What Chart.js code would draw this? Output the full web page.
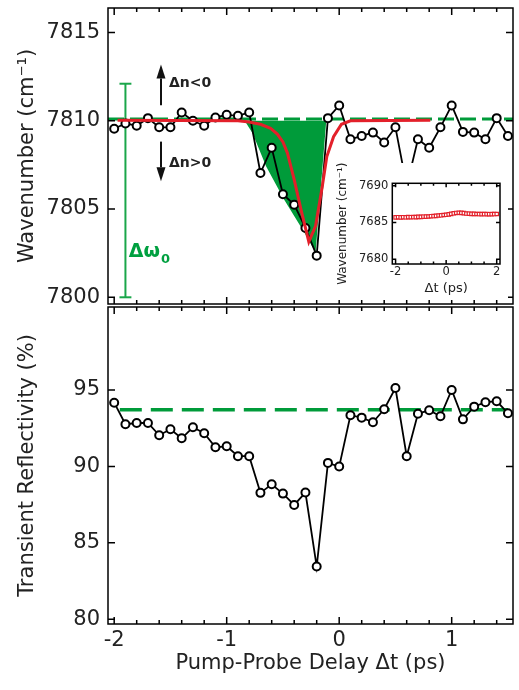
<!DOCTYPE html>
<html>
<head>
<meta charset="utf-8">
<script src="https://cdn.jsdelivr.net/npm/chart.js@4.4.1/dist/chart.umd.min.js"></script>
<style>
	body { margin: 0; background: #fff; }
	#marco { position: relative; width: 519px; height: 690px; }
	canvas { position: absolute; }
</style>
</head>
<body>
<div id="marco">
	<canvas id="canvas01" width="519" height="310" style="left:0;top:0"></canvas>
	<canvas id="canvas02" width="519" height="390" style="left:0;top:300px"></canvas>
	<canvas id="canvas03" width="173" height="140" style="left:335px;top:160px"></canvas>
</div>
<script>
// retardo pump-probe (ps)
var retardo = [-2.0, -1.9, -1.8, -1.7, -1.6, -1.5, -1.4, -1.3, -1.2, -1.1, -1.0, -0.9, -0.8, -0.7, -0.6, -0.5, -0.4, -0.3,
	-0.2, -0.1, 0.0, 0.1, 0.2, 0.3, 0.4, 0.5, 0.6, 0.7, 0.8, 0.9, 1.0, 1.1, 1.2, 1.3, 1.4, 1.5];
// numero de onda (cm-1)
var numOnda = [7809.55, 7809.85, 7809.72, 7810.15, 7809.63, 7809.63, 7810.47, 7810.00, 7809.72, 7810.19, 7810.34, 7810.28,
	7810.47, 7807.04, 7808.47, 7805.84, 7805.25, 7803.93, 7802.36, 7810.15, 7810.87, 7808.95, 7809.14, 7809.33,
	7808.77, 7809.63, 7806.30, 7808.95, 7808.47, 7809.63, 7810.87, 7809.37, 7809.33, 7808.95, 7810.15, 7809.14];
// reflectividad transitoria (%)
var reflect = [94.17, 92.76, 92.84, 92.84, 92.04, 92.43, 91.84, 92.56, 92.17, 91.25, 91.32, 90.67,
	90.67, 88.27, 88.83, 88.22, 87.48, 88.29, 83.45, 90.23, 89.99, 93.35, 93.19, 92.89,
	93.74, 95.13, 90.67, 93.45, 93.67, 93.28, 95.00, 93.08, 93.91, 94.20, 94.26, 93.48];

// curva de ajuste (roja)
var ajusteT = [-1.97, -0.90, -0.80, -0.70, -0.61, -0.55, -0.50, -0.46, -0.40, -0.34, -0.27, -0.21, -0.15, -0.11, -0.05, 0.02, 0.10, 0.81];
var ajusteW = [7810.03, 7810.00, 7809.93, 7809.80, 7809.57, 7809.25, 7808.80, 7808.17, 7806.67, 7804.98, 7803.15,
	7804.04, 7806.29, 7807.97, 7809.10, 7809.80, 7810.00, 7810.03];

// zona verde
var sombraT = [-0.84, -0.77, -0.65, -0.49, -0.31, -0.21, -0.115];
var sombraW = [7810.00, 7809.29, 7807.42, 7805.54, 7803.67, 7802.55, 7810.00];

// lineas base
var baseW = 7810.1;
var baseWT = [-2.055, 1.545];
var baseR = 93.7;
var baseRT = [-1.95, 1.5];

// barra delta omega
var barraT = -1.9;
var barraW = [7800.0, 7812.1];
var barraCapa = 0.053;

// inset
var insetT = [-2.0, -1.9, -1.8, -1.7, -1.6, -1.5, -1.4, -1.3, -1.2, -1.1, -1.0, -0.9, -0.8, -0.7, -0.6, -0.5, -0.4, -0.3, -0.2, -0.1,
	0.0, 0.1, 0.2, 0.3, 0.4, 0.5, 0.6, 0.7, 0.8, 0.9, 1.0, 1.1, 1.2, 1.3, 1.4, 1.5, 1.6, 1.7, 1.8, 1.9, 2.0];
var insetW = [7685.70, 7685.72, 7685.70, 7685.72, 7685.71, 7685.73, 7685.72, 7685.74, 7685.73, 7685.76, 7685.77,
	7685.79, 7685.80, 7685.82, 7685.86, 7685.88, 7685.90, 7685.95, 7685.98, 7686.02, 7686.05, 7686.10, 7686.18,
	7686.25, 7686.30, 7686.33, 7686.31, 7686.27, 7686.22, 7686.20, 7686.18, 7686.17, 7686.16, 7686.15, 7686.14,
	7686.15, 7686.14, 7686.13, 7686.14, 7686.15, 7686.16];

// ticks
var ticksX = [-2, -1, 0, 1];
var ticksXmenor = [-1.8, -1.6, -1.4, -1.2, -0.8, -0.6, -0.4, -0.2, 0.2, 0.4, 0.6, 0.8, 1.2, 1.4];
var ticksW = [7800, 7805, 7810, 7815];
var ticksR = [80, 85, 90, 95];
var ticksInsX = [-2, 0, 2];
var ticksInsXmenor = [-1.5, -1, -0.5, 0.5, 1, 1.5];
var ticksInsW = [7680, 7685, 7690];

var VERDE = '#009b3a';
var ROJO = '#e3202a';
var TEXTO = '#222';
var FUENTE = 'DejaVu Sans';

function puntos(xs, ys) {
	return xs.map(function (v, i) { return { x: v, y: ys[i] }; });
}

const marco_ticks = {
	id: 'marco_ticks',
	afterDraw(chart, args, opts) {
		const { ctx, chartArea: { left, top, right, bottom }, scales: { x, y } } = chart;
		ctx.save();
		ctx.strokeStyle = '#000';
		ctx.lineWidth = opts.ancho;
		ctx.beginPath();
		(opts.xMayor || []).forEach(function (v) {
			var px = x.getPixelForValue(v);
			ctx.moveTo(px, bottom); ctx.lineTo(px, bottom - opts.largo);
			ctx.moveTo(px, top); ctx.lineTo(px, top + opts.largo);
		});
		(opts.xMenor || []).forEach(function (v) {
			var px = x.getPixelForValue(v);
			ctx.moveTo(px, bottom); ctx.lineTo(px, bottom - opts.corto);
			ctx.moveTo(px, top); ctx.lineTo(px, top + opts.corto);
		});
		(opts.yMayor || []).forEach(function (v) {
			var py = y.getPixelForValue(v);
			ctx.moveTo(left, py); ctx.lineTo(left + opts.largo, py);
			ctx.moveTo(right, py); ctx.lineTo(right - opts.largo, py);
		});
		ctx.stroke();
		ctx.strokeRect(left, top, right - left, bottom - top);
		ctx.restore();
	}
};

const fondo_blanco = {
	id: 'fondo_blanco',
	beforeDraw(chart, args, opts) {
		const ctx = chart.ctx;
		ctx.save();
		ctx.fillStyle = '#fff';
		ctx.fillRect(0, opts.desde, chart.width, chart.height - opts.desde);
		ctx.restore();
	}
};

function flecha(ctx, x, y0, y1) {
	var dir = y1 < y0 ? 1 : -1;
	var cab = 14;
	ctx.beginPath();
	ctx.moveTo(x, y0);
	ctx.lineTo(x, y1 + dir * cab);
	ctx.stroke();
	ctx.beginPath();
	ctx.moveTo(x, y1);
	ctx.lineTo(x - 4.5, y1 + dir * cab);
	ctx.lineTo(x + 4.5, y1 + dir * cab);
	ctx.closePath();
	ctx.fill();
}

const anotaciones = {
	id: 'anotaciones',
	afterDatasetsDraw(chart, args, opts) {
		const { ctx, scales: { x, y } } = chart;
		ctx.save();
		ctx.strokeStyle = '#111';
		ctx.fillStyle = '#111';
		ctx.lineWidth = 2;
		opts.flechas.forEach(function (f) {
			flecha(ctx, x.getPixelForValue(f.x), y.getPixelForValue(f.y0), y.getPixelForValue(f.y1));
		});
		ctx.fillStyle = TEXTO;
		ctx.font = 'bold 14px "' + FUENTE + '"';
		ctx.textBaseline = 'middle';
		ctx.textAlign = 'left';
		opts.textos.forEach(function (t) {
			ctx.fillText(t.t, x.getPixelForValue(t.x), y.getPixelForValue(t.y));
		});
		// delta omega 0
		var s = opts.simbolo;
		var sx = x.getPixelForValue(s.x), sy = y.getPixelForValue(s.y);
		ctx.fillStyle = '#00a040';
		ctx.textBaseline = 'alphabetic';
		ctx.font = 'bold 19px "' + FUENTE + '"';
		ctx.fillText('Δω', sx, sy);
		var w = ctx.measureText('Δω').width;
		ctx.font = 'bold 13px "' + FUENTE + '"';
		ctx.fillText('0', sx + w + 1, sy + 6);
		ctx.restore();
	}
};

function ejeY(min, max, ticks, titulo) {
	return {
		type: 'linear', min: min, max: max,
		afterBuildTicks: function (s) { s.ticks = ticks.map(function (v) { return { value: v }; }); },
		afterFit: function (s) { s.width = 108; s.paddingTop = 0; s.paddingBottom = 0; },
		grid: { display: false, drawTicks: false },
		border: { display: false },
		ticks: {
			padding: 8, color: TEXTO,
			font: { family: FUENTE, size: 21 },
			callback: function (v) { return String(v); }
		},
		title: {
			display: true, text: titulo, color: TEXTO,
			font: { family: FUENTE, size: 21 },
			padding: { top: 15, bottom: 0 }
		}
	};
}

var graf_onda = null;
var graf_refl = null;
var graf_inset = null;

function GrafOnda() {
	var config01 = {
		type: 'line',
		data: {
			datasets: [{
				label: 'ajuste',
				data: puntos(ajusteT, ajusteW),
				borderColor: ROJO, borderWidth: 3, pointRadius: 0, tension: 0, order: 1
			}, {
				label: 'numero de onda',
				data: puntos(retardo, numOnda),
				borderColor: '#000', borderWidth: 1.8,
				pointRadius: 4, pointBorderWidth: 2, pointBackgroundColor: '#fff', pointBorderColor: '#000',
				order: 2
			}, {
				label: 'barra',
				data: puntos([barraT, barraT], barraW),
				borderColor: '#1aa64a', borderWidth: 2, pointRadius: 0, order: 3
			}, {
				label: 'capa sup',
				data: puntos([barraT - barraCapa, barraT + barraCapa], [barraW[1], barraW[1]]),
				borderColor: '#1aa64a', borderWidth: 2, pointRadius: 0, order: 3
			}, {
				label: 'capa inf',
				data: puntos([barraT - barraCapa, barraT + barraCapa], [barraW[0], barraW[0]]),
				borderColor: '#1aa64a', borderWidth: 2, pointRadius: 0, order: 3
			}, {
				label: 'base',
				data: puntos(baseWT, [baseW, baseW]),
				borderColor: VERDE, borderWidth: 3, borderDash: [16, 6], pointRadius: 0, order: 4
			}, {
				label: 'sombra',
				data: puntos(sombraT, sombraW),
				borderWidth: 0, borderColor: VERDE, backgroundColor: VERDE,
				fill: { value: 7810.0 }, pointRadius: 0, order: 5
			}]
		},
		options: {
			responsive: false, animation: false, events: [],
			layout: { padding: { top: 8, right: 1, bottom: 4, left: 0 } },
			plugins: {
				legend: { display: false },
				tooltip: { enabled: false },
				marco_ticks: { ancho: 1.5, largo: 7, corto: 4, xMayor: ticksX, xMenor: ticksXmenor, yMayor: ticksW },
				anotaciones: {
					flechas: [{ x: -1.584, y0: 7810.88, y1: 7813.19 }, { x: -1.584, y0: 7808.82, y1: 7806.57 }],
					textos: [{ x: -1.513, y: 7812.1, t: 'Δn<0' }, { x: -1.513, y: 7807.6, t: 'Δn>0' }],
					simbolo: { x: -1.871, y: 7802.27 }
				}
			},
			scales: {
				x: { type: 'linear', min: -2.055, max: 1.545, display: false },
				y: ejeY(7799.62, 7816.39, ticksW, 'Wavenumber (cm⁻¹)')
			}
		},
		plugins: [marco_ticks, anotaciones]
	};
	var ctx01 = document.getElementById('canvas01').getContext('2d');
	graf_onda = new Chart(ctx01, config01);
}

function GrafRefl() {
	var config02 = {
		type: 'line',
		data: {
			datasets: [{
				label: 'reflectividad',
				data: puntos(retardo, reflect),
				borderColor: '#000', borderWidth: 1.8,
				pointRadius: 4, pointBorderWidth: 2, pointBackgroundColor: '#fff', pointBorderColor: '#000',
				order: 1
			}, {
				label: 'base',
				data: puntos(baseRT, [baseR, baseR]),
				borderColor: VERDE, borderWidth: 3.5, borderDash: [22, 9], pointRadius: 0, order: 2
			}]
		},
		options: {
			responsive: false, animation: false, events: [],
			layout: { padding: { top: 7, right: 1, bottom: 6, left: 0 } },
			plugins: {
				legend: { display: false },
				tooltip: { enabled: false },
				marco_ticks: { ancho: 1.5, largo: 7, corto: 4, xMayor: ticksX, xMenor: ticksXmenor, yMayor: ticksR }
			},
			scales: {
				x: {
					type: 'linear', min: -2.055, max: 1.545,
					afterBuildTicks: function (s) { s.ticks = ticksX.map(function (v) { return { value: v }; }); },
					afterFit: function (s) { s.height = 60; s.paddingLeft = 0; s.paddingRight = 0; },
					grid: { display: false, drawTicks: false },
					border: { display: false },
					ticks: {
						padding: 4, color: TEXTO, maxRotation: 0,
						font: { family: FUENTE, size: 21 },
						callback: function (v) { return String(v); }
					},
					title: {
						display: true, text: 'Pump-Probe Delay Δt (ps)', color: TEXTO,
						font: { family: FUENTE, size: 21 },
						padding: { top: 0, bottom: 7.4 }
					}
				},
				y: ejeY(79.69, 100.43, ticksR, 'Transient Reflectivity (%)')
			}
		},
		plugins: [marco_ticks]
	};
	var ctx02 = document.getElementById('canvas02').getContext('2d');
	graf_refl = new Chart(ctx02, config02);
}

function GrafInset() {
	var config03 = {
		type: 'line',
		data: {
			datasets: [{
				label: 'inset',
				data: puntos(insetT, insetW),
				showLine: false,
				pointStyle: 'rect', pointRadius: 2.4, pointBorderWidth: 1.2,
				pointBorderColor: ROJO, pointBackgroundColor: '#fff'
			}]
		},
		options: {
			responsive: false, animation: false, events: [],
			layout: { padding: { top: 23.3, right: 8, bottom: 0, left: 0 } },
			plugins: {
				legend: { display: false },
				tooltip: { enabled: false },
				fondo_blanco: { desde: 3 },
				marco_ticks: { ancho: 1.5, largo: 4, corto: 2.5, xMayor: ticksInsX, xMenor: ticksInsXmenor, yMayor: ticksInsW }
			},
			scales: {
				x: {
					type: 'linear', min: -2.13, max: 2.13,
					afterBuildTicks: function (s) { s.ticks = ticksInsX.map(function (v) { return { value: v }; }); },
					afterFit: function (s) { s.height = 36; s.paddingLeft = 0; s.paddingRight = 0; },
					grid: { display: false, drawTicks: false },
					border: { display: false },
					ticks: {
						padding: 1, color: TEXTO, maxRotation: 0,
						font: { family: FUENTE, size: 11.5 },
						callback: function (v) { return String(v); }
					},
					title: {
						display: true, text: 'Δt (ps)', color: TEXTO,
						font: { family: FUENTE, size: 13 },
						padding: { top: 0, bottom: 4 }
					}
				},
				y: {
					type: 'linear', min: 7679.36, max: 7690.33,
					afterBuildTicks: function (s) { s.ticks = ticksInsW.map(function (v) { return { value: v }; }); },
					afterFit: function (s) { s.width = 57.3; s.paddingTop = 0; s.paddingBottom = 0; },
					grid: { display: false, drawTicks: false },
					border: { display: false },
					ticks: {
						padding: 4, color: TEXTO,
						font: { family: FUENTE, size: 11.5 },
						callback: function (v) { return String(v); }
					},
					title: {
						display: true, text: 'Wavenumber (cm⁻¹)', color: TEXTO,
						font: { family: FUENTE, size: 12 },
						padding: { top: 1, bottom: 0 }
					}
				}
			}
		},
		plugins: [fondo_blanco, marco_ticks]
	};
	var ctx03 = document.getElementById('canvas03').getContext('2d');
	graf_inset = new Chart(ctx03, config03);
}

GrafOnda();
GrafRefl();
GrafInset();
</script>
</body>
</html>
